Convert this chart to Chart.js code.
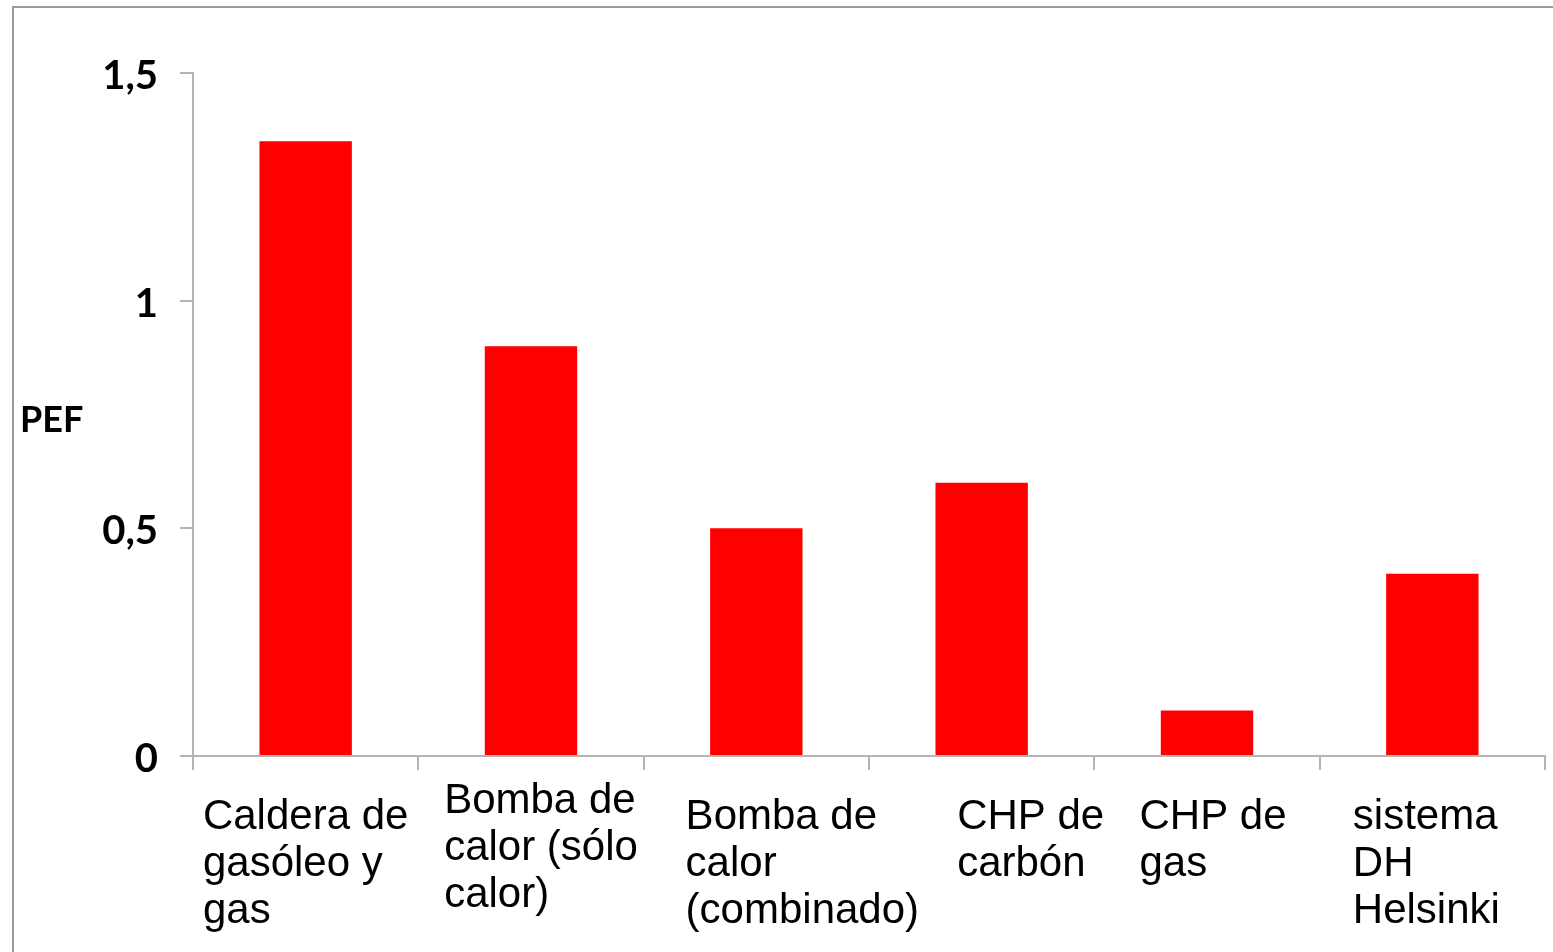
<!DOCTYPE html>
<html>
<head>
<meta charset="utf-8">
<title>PEF</title>
<script src="https://cdn.jsdelivr.net/npm/chart.js@4/dist/chart.umd.min.js"></script>
<style>
  html, body { margin: 0; padding: 0; background: #ffffff; }
  #wrap { position: relative; width: 1553px; height: 952px; }
  canvas { display: block; }
</style>
</head>
<body>
<div id="wrap"><canvas id="chart" width="1553" height="952"></canvas></div>
<script>
// Categories (each entry is one label, split into its display lines)
const categories = [
  ['Caldera de', 'gasóleo y', 'gas'],
  ['Bomba de', 'calor (sólo', 'calor)'],
  ['Bomba de', 'calor', '(combinado)'],
  ['CHP de', 'carbón'],
  ['CHP de', 'gas'],
  ['sistema', 'DH', 'Helsinki']
];
// Primary energy factor per heating option
const pefValues = [1.35, 0.9, 0.5, 0.6, 0.1, 0.4];
// Value axis ticks
const yTicks = [0, 0.5, 1, 1.5];
const yTitle = 'PEF';

const AXIS_GREY = '#b4b4b4';
const FRAME_GREY = '#9a9a9a';
// Fine shifts [dx, dy] of each wrapped label block from its centred spot
const labelNudge = [[0, 0], [10, -16], [46, 0], [49, 0], [6, 0], [-6, 0]];

// Draws the outer frame, the horizontal axis title and the wrapped category labels
const decorations = {
  id: 'decorations',
  afterDraw(chart) {
    const ctx = chart.ctx;
    const area = chart.chartArea;
    const x = chart.scales.x;
    ctx.save();
    // outer frame
    ctx.strokeStyle = FRAME_GREY;
    ctx.lineWidth = 2;
    ctx.beginPath();
    ctx.moveTo(13, chart.height + 10);
    ctx.lineTo(13, 7);
    ctx.lineTo(chart.width + 10, 7);
    ctx.stroke();

    // axis title, horizontal
    ctx.fillStyle = '#000000';
    ctx.font = 'bold 36px Lato, "Open Sans", sans-serif';
    ctx.textAlign = 'left';
    ctx.textBaseline = 'middle';
    ctx.fillText(yTitle, 20, (area.top + area.bottom) / 2 + 6);

    // category labels: left-aligned lines in a block centred on the category
    ctx.font = '42px "Liberation Sans", Arial, sans-serif';
    ctx.textBaseline = 'alphabetic';
    const lineH = 47;
    categories.forEach((lines, i) => {
      const cx = x.getPixelForValue(i);
      const w = Math.max(...lines.map(l => ctx.measureText(l).width));
      const [dx, dy] = labelNudge[i];
      const left = cx - w / 2 + dx;
      lines.forEach((l, j) => {
        ctx.fillText(l, left, area.bottom + 73 + dy + j * lineH);
      });
    });
    ctx.restore();
  }
};

new Chart(document.getElementById('chart'), {
  type: 'bar',
  data: {
    labels: categories.map(c => c.join(' ')),
    datasets: [{
      data: pefValues,
      backgroundColor: '#ff0000',
      borderWidth: 0,
      barPercentage: 0.41,
      categoryPercentage: 1.0
    }]
  },
  options: {
    responsive: false,
    animation: false,
    devicePixelRatio: 1,
    layout: { padding: { top: 73, right: 8, bottom: 0, left: 0 } },
    plugins: {
      legend: { display: false },
      tooltip: { enabled: false }
    },
    scales: {
      x: {
        offset: true,
        border: { display: true, color: AXIS_GREY, width: 2 },
        grid: {
          display: true,
          offset: true,
          drawOnChartArea: false,
          drawTicks: true,
          tickLength: 14,
          color: AXIS_GREY,
          lineWidth: 2
        },
        ticks: { display: false },
        afterFit(scale) { scale.height = 952 - 756; }
      },
      y: {
        min: 0,
        max: 1.5,
        border: { display: true, color: AXIS_GREY, width: 2 },
        grid: {
          display: true,
          drawOnChartArea: false,
          drawTicks: true,
          tickLength: 13,
          color: AXIS_GREY,
          lineWidth: 2
        },
        afterBuildTicks(scale) {
          scale.ticks = yTicks.map(v => ({ value: v }));
        },
        ticks: {
          padding: 22,
          labelOffset: 3,
          color: '#000000',
          font: { family: 'Lato, "Open Sans", sans-serif', weight: 'bold', size: 40 },
          callback: v => String(v).replace('.', ',')
        },
        afterFit(scale) { scale.width = 193; }
      }
    }
  },
  plugins: [decorations]
});
</script>
</body>
</html>
